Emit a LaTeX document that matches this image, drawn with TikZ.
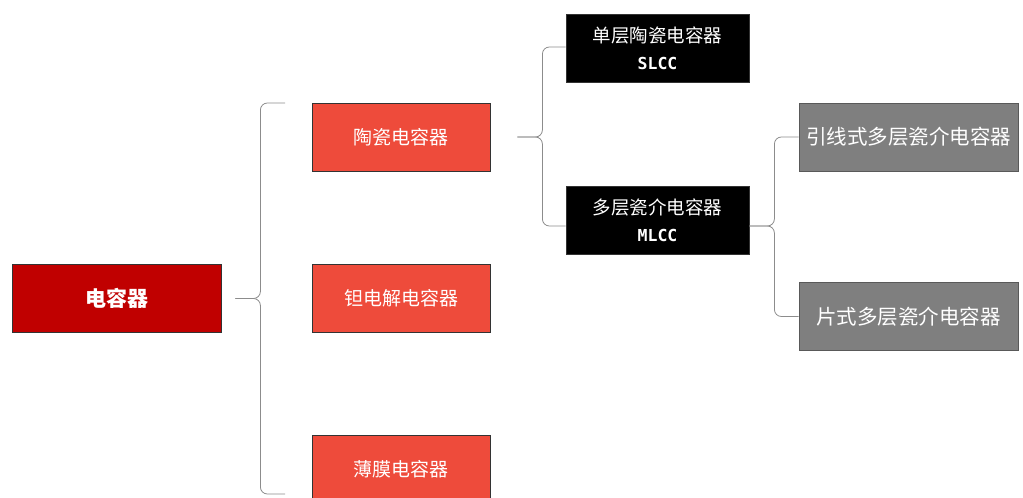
\documentclass[tikz,border=0pt]{standalone}
\usepackage{fontspec}
\setmainfont{Noto Sans CJK SC}
\setmonofont{DejaVu Sans Mono}
\definecolor{rootred}{HTML}{C00000}
\definecolor{kindred}{HTML}{EE4B3B}
\definecolor{formgray}{HTML}{7F7F7F}
\definecolor{linegray}{HTML}{8C8C8C}
\tikzset{
  box/.style={draw=black!80, line width=0.8pt, text=white, inner sep=0pt,
    align=center, minimum height=68pt},
  rootbox/.style={box, fill=rootred, minimum width=209pt,
    font=\fontsize{21}{24}\selectfont\bfseries},
  kindbox/.style={box, fill=kindred, minimum width=178pt,
    font=\fontsize{19}{22}\selectfont},
  typebox/.style={box, fill=black, minimum width=183pt,
    font=\fontsize{18.5}{27}\selectfont},
  formbox/.style={box, fill=formgray, draw=black!65, minimum width=219pt,
    font=\fontsize{20.5}{24}\selectfont},
  braceline/.style={draw=linegray, line width=0.8pt, rounded corners=7pt},
}
\begin{document}
\begin{tikzpicture}[x=1pt,y=-1pt]
\useasboundingbox (0,0) rectangle (1023,498);
% boxes
\node [rootbox] (root) at (116.5,298.5) {电容器};
\node [kindbox] (ceramic) at (401,137) {陶瓷电容器};
\node [kindbox] (tantalum) at (401,298.5) {钽电解电容器};
\node [kindbox] (film) at (401,469) {薄膜电容器};
\node [typebox] (slcc) at (657.5,48) {单层陶瓷电容器\\{\ttfamily\bfseries\fontsize{16.5}{18}\selectfont SLCC}};
\node [typebox] (mlcc) at (657.5,220) {多层瓷介电容器\\{\ttfamily\bfseries\fontsize{16.5}{18}\selectfont MLCC}};
\node [formbox] (leaded) at (908.5,137) {引线式多层瓷介电容器};
\node [formbox] (chip) at (908.5,316.5) {片式多层瓷介电容器};
% braces
\coordinate (tipA) at ([xshift=14pt]root.east);
\coordinate (topA) at (285,103);
\coordinate (botA) at (285,494);
\draw [braceline] (topA) -| ([xshift=25pt]tipA) -- (tipA);
\draw [braceline] (botA) -| ([xshift=25pt]tipA) -- (tipA);
\coordinate (tipB) at ([xshift=27pt]ceramic.east);
\draw [braceline] ([yshift=1pt]slcc.west) -| ([xshift=25pt]tipB) -- (tipB);
\draw [braceline] ([yshift=-6pt]mlcc.west) -| ([xshift=25pt]tipB) -- (tipB);
\coordinate (tipC) at ([yshift=-6pt]mlcc.east);
\draw [braceline] (leaded.west) -| ([xshift=25pt]tipC) -- (tipC);
\draw [braceline] (chip.west) -| ([xshift=25pt]tipC) -- (tipC);
\end{tikzpicture}
\end{document}
